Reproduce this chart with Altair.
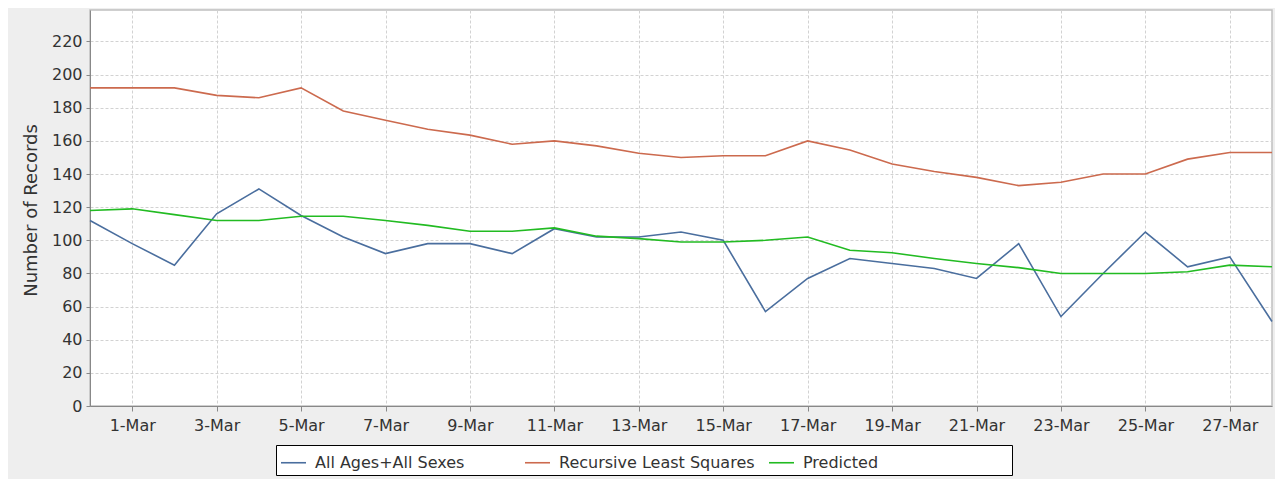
import altair as alt
import pandas as pd

dates = ["28-Feb"] + [f"{d}-Mar" for d in range(1, 29)]
all_ages = [112, 98, 85, 116, 131, 115, 102, 92, 98, 98, 92, 107, 102, 102, 105,
            100, 57, 77, 89, 86, 83, 77, 98, 54, 80, 105, 84, 90, 51]
rls = [192, 192, 192, 187.5, 186, 192, 178, 172.5, 167, 163.5, 158, 160, 157, 152.5,
       150, 151, 151, 160, 154.5, 146, 141.5, 138, 133, 135, 140, 140, 149, 153, 153]
predicted = [118, 119, 115.5, 112, 112, 114.5, 114.5, 112, 109, 105.5, 105.5, 107.5,
             102.5, 101, 99, 99, 100, 102, 94, 92.5, 89, 86, 83.5, 80, 80, 80, 81, 85, 84]

series_names = ["All Ages+All Sexes", "Recursive Least Squares", "Predicted"]
series_colors = ["#4a6e9e", "#cc6a4e", "#22bb22"]
x_ticks = dates[1::2]
y_ticks = list(range(0, 221, 20))

rows = []
for name, vals in zip(series_names, [all_ages, rls, predicted]):
    for d, v in zip(dates, vals):
        rows.append({"date": d, "value": v, "series": name})
df = pd.DataFrame(rows)

FONT = "DejaVu Sans"
TXT = "#333333"

# blank braille cells (not trimmed as whitespace) widen the last legend cell
legend_label = "datum.label == 'Predicted' ? datum.label + '" + "\u2800" * 11 + "' : datum.label"

chart = alt.Chart(df).mark_line(strokeWidth=1.6).encode(
    x=alt.X(
        "date:O", sort=dates,
        scale=alt.Scale(type="point", padding=0),
        axis=alt.Axis(values=x_ticks, title=None, labelAngle=0, grid=True,
                      labelFont=FONT, labelFontSize=16, labelColor=TXT,
                      tickSize=5, labelPadding=6, domainColor="#888888",
                      tickColor="#888888", gridColor="#d2d2d2", gridDash=[3, 2]),
    ),
    y=alt.Y(
        "value:Q",
        scale=alt.Scale(domain=[0, 239], nice=False, zero=True),
        axis=alt.Axis(values=y_ticks, title="Number of Records",
                      labelFont=FONT, labelFontSize=16, labelColor=TXT,
                      tickSize=4, labelPadding=4, domainColor="#888888",
                      tickColor="#888888", gridColor="#d2d2d2", gridDash=[3, 2],
                      titleFont=FONT, titleFontSize=18, titleFontWeight="normal",
                      titleColor=TXT, titleX=-59, titleY=200, titleAngle=-90,
                      titleAlign="center", titleBaseline="middle"),
    ),
    color=alt.Color(
        "series:N", sort=series_names,
        scale=alt.Scale(domain=series_names, range=series_colors),
        legend=alt.Legend(
            title=None, orient="none", legendX=186, legendY=435,
            direction="horizontal", columns=3, gridAlign="all",
            fillColor="white", strokeColor="black", padding=4,
            symbolType="stroke", symbolSize=625, symbolStrokeWidth=1.6,
            labelFont=FONT, labelFontSize=16, labelColor=TXT,
            labelOffset=8, columnPadding=1, labelLimit=400,
            labelExpr=legend_label,
        ),
    ),
).properties(
    width=1182, height=396,
    autosize=alt.AutoSizeParams(type="none"),
    padding={"left": 82, "top": 2, "right": 3, "bottom": 73},
    background="#eeeeee",
).configure_view(
    stroke="#c0c0c0", strokeWidth=1.5, fill="white"
)

chart.save("out.html", embed_options={"renderer": "svg", "actions": False})
